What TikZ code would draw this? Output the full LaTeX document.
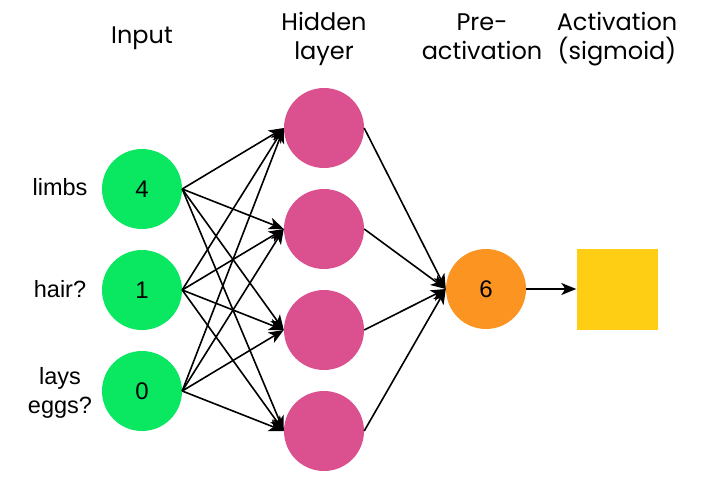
\documentclass[tikz,border=0pt]{standalone}
\usepackage{fontspec}
\setmainfont{Poppins}
\newfontfamily\labelfont{Liberation Sans}
\usetikzlibrary{arrows.meta}
\definecolor{inputgreen}{HTML}{0AE862}
\definecolor{hiddenpink}{HTML}{DB508E}
\definecolor{preorange}{HTML}{FC9422}
\definecolor{actyellow}{HTML}{FECE15}

\begin{document}
\begin{tikzpicture}[x=1pt,y=-1pt,
  neuron/.style={circle, minimum size=80pt, inner sep=0pt},
  link/.style={-{Stealth[length=15pt,width=12pt,inset=4pt]}, line width=1.6pt},
  title/.style={align=center, font=\fontsize{24}{29}\selectfont},
  side/.style={align=center, font=\labelfont\fontsize{23.5}{29}\selectfont},
  digit/.style={font=\labelfont\fontsize{24}{28}\selectfont}]
\useasboundingbox (0,0) rectangle (723,485);

% Draw column titles
\node[title] (tinput) at (142,38) {Input};
\node[title] (thidden) at (324,39) {Hidden\\layer};
\node[title] (tpre) at (482,37) {Pre-\\activation};
\node[title] (tact) at (617,39) {Activation\\(sigmoid)};

% Draw input layer
\node[neuron, fill=inputgreen, digit] (limbs) at (142,189) {4};
\node[neuron, fill=inputgreen, digit] (hair) at (142,290) {1};
\node[neuron, fill=inputgreen, digit] (eggs) at (142,391) {0};
\node[side] (llimbs) at (60,187) {limbs};
\node[side] (lhair) at (60,289) {hair?};
\node[side] (leggs) at (60,393) {lays\\eggs?};

% Draw hidden layer
\node[neuron, fill=hiddenpink] (h1) at (324,128) {};
\node[neuron, fill=hiddenpink] (h2) at (324,229) {};
\node[neuron, fill=hiddenpink] (h3) at (324,330) {};
\node[neuron, fill=hiddenpink] (h4) at (324,431) {};

% Draw pre-activation and activation
\node[neuron, fill=preorange, digit] (pre) at (486,289) {6};
\node[fill=actyellow, minimum size=81pt, inner sep=0pt] (act) at (617,289) {};

% Draw connections
\foreach \i in {limbs,hair,eggs}
  \foreach \h in {h1,h2,h3,h4}
    \draw[link] (\i.east) -- (\h.west);
\foreach \h in {h1,h2,h3,h4}
  \draw[link] (\h.east) -- (pre.west);
\draw[link] (pre.east) -- (act.west);
\end{tikzpicture}
\end{document}
